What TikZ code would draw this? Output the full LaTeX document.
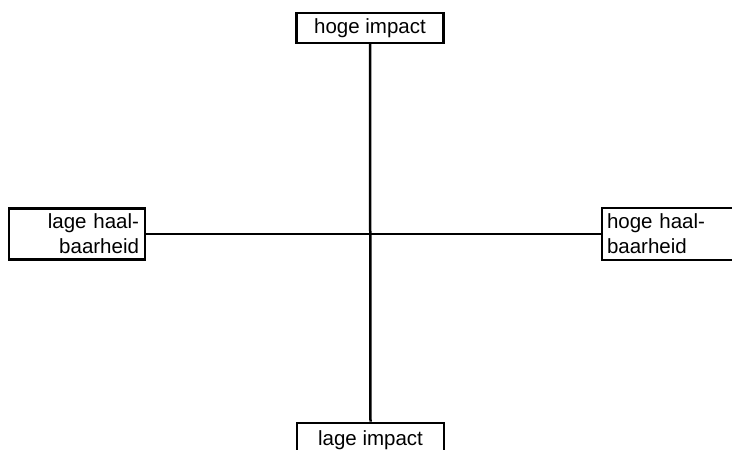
\documentclass[tikz,border=0pt]{standalone}
\usepackage{fontspec}
\setmainfont{Liberation Sans}
\begin{document}
\begin{tikzpicture}[x=1pt,y=1pt,
  box/.style={draw=black, line width=2.5pt, fill=white, inner sep=0pt, font=\fontsize{20.5}{25}\selectfont},
  axis/.style={draw=black, line width=2.5pt}]
\useasboundingbox (0,0) rectangle (732,450);
\node[box, minimum width=147pt, minimum height=30pt] (top) at (370,422) {hoge impact};
\node[box, minimum width=147pt, minimum height=34pt] (bot) at (370.5,10) {lage impact};
\node[box, minimum width=136pt, minimum height=51pt, text width=124pt, align=right] (left) at (77,216) {lage haal-\\baarheid};
\node[box, minimum width=140pt, minimum height=52pt, text width=130pt, align=left] (right) at (672,216) {hoge haal-\\baarheid};
\draw[axis] (top.south) -- (bot.north);
\draw[axis] (left.east) -- (right.west);
\end{tikzpicture}
\end{document}
